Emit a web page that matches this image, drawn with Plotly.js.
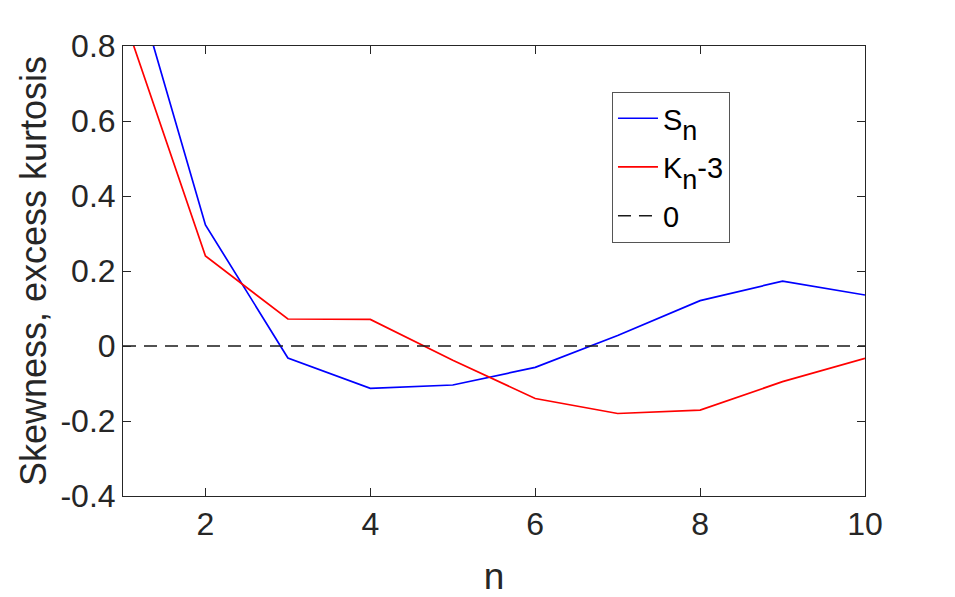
<!DOCTYPE html>
<html>
<head>
<meta charset="utf-8">
<script src="https://cdn.plot.ly/plotly-3.0.1.min.js"></script>
<style>html,body{margin:0;padding:0;background:#fff;}#chart{width:955px;height:597px;}</style>
</head>
<body>
<div id="chart"></div>
<script>
const n = [1, 2, 3, 4, 5, 6, 7, 8, 9, 10];
const skewness = [1.08, 0.323, -0.032, -0.113, -0.104, -0.057, 0.028, 0.121, 0.173, 0.136];
const excessKurtosis = [0.884, 0.240, 0.072, 0.071, -0.038, -0.140, -0.180, -0.171, -0.095, -0.033];
const zeroX = [1, 10];
const zeroY = [0, 0];
const xTickVals = [2, 4, 6, 8, 10];
const xTickText = ["2", "4", "6", "8", "10"];
const yTickVals = [-0.4, -0.2, 0, 0.2, 0.4, 0.6, 0.8];
const yTickText = ["-0.4", "-0.2", "0", "0.2", "0.4", "0.6", "0.8"];

const axisColor = "#262626";
const font = "Liberation Sans, Arial, Helvetica, sans-serif";

const traces = [
  {x: n, y: skewness, type: "scatter", mode: "lines", name: 'S<sub><sub><span style="font-size:27px">n</span></sub></sub>', legendgroup: "a",
   line: {color: "rgb(0,0,255)", width: 1.7}},
  {x: n, y: excessKurtosis, type: "scatter", mode: "lines", name: 'K<sub><sub><span style="font-size:27px">n</span></sub></sub>-3', legendgroup: "b",
   line: {color: "rgb(255,0,0)", width: 1.7}},
  {x: zeroX, y: zeroY, type: "scatter", mode: "lines", name: "0", legendgroup: "c",
   line: {color: "#1a1a1a", width: 1.5, dash: "13px,8px"}}
];

const layout = {
  width: 955, height: 597,
  margin: {l: 123, r: 90, t: 46, b: 101, pad: 0},
  paper_bgcolor: "#ffffff", plot_bgcolor: "#ffffff",
  font: {family: font, size: 32, color: axisColor},
  showlegend: true,
  legend: {
    x: 0.659, y: 0.898, xanchor: "left", yanchor: "top",
    bgcolor: "#ffffff", bordercolor: "#555555", borderwidth: 1,
    font: {family: font, size: 29, color: "#000000"},
    tracegroupgap: 8, itemwidth: 40
  },
  xaxis: {
    range: [1, 10], tickvals: xTickVals, ticktext: xTickText,
    ticks: "inside", ticklen: 8, tickwidth: 1, tickcolor: axisColor,
    showline: true, linecolor: axisColor, linewidth: 1, mirror: "ticks",
    showgrid: false, zeroline: false,
    tickfont: {family: font, size: 32, color: axisColor},
    title: {text: "n", font: {family: font, size: 37, color: axisColor}, standoff: 22}
  },
  yaxis: {
    range: [-0.4, 0.8], tickvals: yTickVals, ticktext: yTickText,
    ticks: "inside", ticklen: 8, tickwidth: 1, tickcolor: axisColor,
    showline: true, linecolor: axisColor, linewidth: 1, mirror: "ticks",
    showgrid: false, zeroline: false,
    tickfont: {family: font, size: 32, color: axisColor},
    title: {text: "Skewness, excess kurtosis", font: {family: font, size: 36, color: axisColor}, standoff: 2}
  }
};

Plotly.newPlot("chart", traces, layout, {staticPlot: true, displayModeBar: false});
</script>
</body>
</html>
